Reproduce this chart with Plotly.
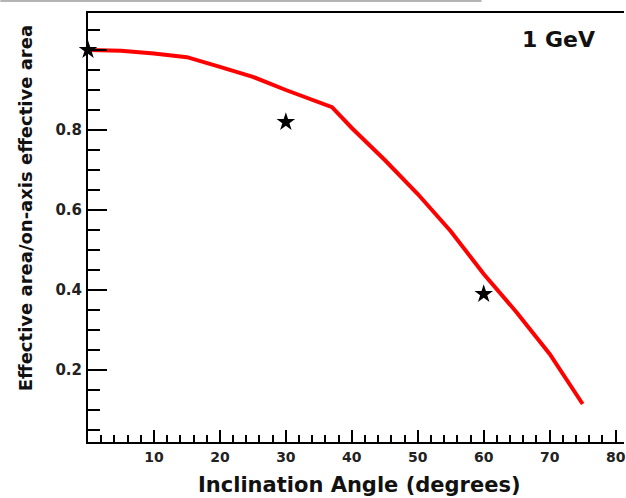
import plotly.graph_objects as go

# Curve: effective area ratio vs inclination angle (1 GeV)
curve_angle = [0, 5, 10, 15, 20, 25, 30, 35, 37, 40, 45, 50, 55, 60, 65, 70, 75]
curve_ratio = [1.0, 0.998, 0.991, 0.982, 0.958, 0.933, 0.900, 0.868, 0.857,
               0.805, 0.725, 0.640, 0.547, 0.440, 0.344, 0.240, 0.115]

# Measured points (stars)
point_angle = [0, 30, 60]
point_ratio = [1.0, 0.82, 0.39]

x_tickvals = [10, 20, 30, 40, 50, 60, 70, 80]
x_ticktext = ["10", "20", "30", "40", "50", "60", "70", "80"]
y_tickvals = [0.2, 0.4, 0.6, 0.8, 1.0]
y_ticktext = ["0.2", "0.4", "0.6", "0.8", ""]

FONT = "DejaVu Sans"

fig = go.Figure()
fig.add_trace(go.Scatter(
    x=curve_angle, y=curve_ratio, mode="lines",
    line=dict(color="#ff0000", width=4), showlegend=False, hoverinfo="skip"))
fig.add_trace(go.Scatter(
    x=point_angle, y=point_ratio, mode="markers",
    marker=dict(symbol="star", size=14, color="black"),
    cliponaxis=False, showlegend=False))

fig.update_layout(
    width=626, height=498,
    margin=dict(l=88, r=0, t=13, b=56),
    paper_bgcolor="white", plot_bgcolor="white",
    font=dict(family=FONT, color="black"),
    xaxis=dict(
        range=[0, 81.27], showgrid=False, zeroline=False,
        showline=True, linecolor="black", linewidth=2, mirror=True,
        ticks="inside", ticklen=12, tickwidth=2, tickcolor="black",
        tickvals=x_tickvals, ticktext=x_ticktext,
        tickfont=dict(family=FONT, size=14, color="#222", weight="bold"),
        minor=dict(dtick=2, tick0=0, ticks="inside", ticklen=7, tickwidth=2,
                   tickcolor="black", showgrid=False),
        ticklabelstandoff=1,
        ticklabeloverflow="allow",
    ),
    yaxis=dict(
        range=[0.02, 1.0925], showgrid=False, zeroline=False,
        showline=True, linecolor="black", linewidth=2, mirror=False,
        ticks="inside", ticklen=19, tickwidth=2, tickcolor="black",
        tickvals=y_tickvals, ticktext=y_ticktext,
        tickfont=dict(family=FONT, size=15, color="#222", weight="bold"),
        minor=dict(dtick=0.05, tick0=0, ticks="inside", ticklen=12, tickwidth=2,
                   tickcolor="black", showgrid=False),
        ticklabelstandoff=1,
    ),
    annotations=[
        dict(text="Inclination Angle (degrees)", xref="paper", yref="paper",
             x=(361 - 88) / 538, y=(442 - 485) / 429, xanchor="center", yanchor="middle",
             showarrow=False, font=dict(family=FONT, size=21, color="#111", weight="bold")),
        dict(text="Effective area/on-axis effective area", xref="paper", yref="paper",
             x=(25 - 88) / 538, y=(442 - 208) / 429, xanchor="center", yanchor="middle",
             textangle=-90, showarrow=False,
             font=dict(family=FONT, size=18, color="#111", weight="bold")),
        dict(text="1 GeV", xref="paper", yref="paper",
             x=(560 - 88) / 538, y=(442 - 40) / 429, xanchor="center", yanchor="middle",
             showarrow=False, font=dict(family=FONT, size=22, color="#111", weight="bold")),
    ],
    shapes=[
        dict(type="line", xref="paper", yref="paper",
             x0=-88 / 538, x1=(483 - 88) / 538, y0=(442 - 1) / 429, y1=(442 - 1) / 429,
             line=dict(color="#b4b4b4", width=2)),
    ],
)

fig.write_html(
    "out.html",
    config={"displayModeBar": False},
    post_script="document.body.style.margin='0';document.body.style.overflow='hidden';",
)
